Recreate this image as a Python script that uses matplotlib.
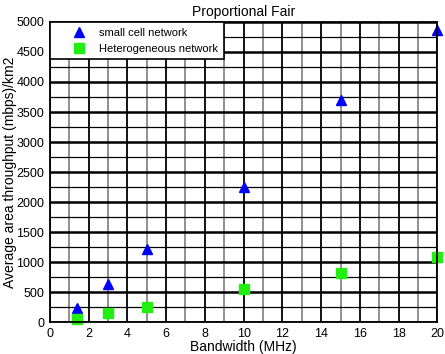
import matplotlib
matplotlib.use('Agg')
import matplotlib.pyplot as plt
from matplotlib.ticker import MultipleLocator

plt.rcParams['font.family'] = ['Liberation Sans', 'DejaVu Sans']

# data
bandwidth = [1.4, 3, 5, 10, 15, 20]
small_cell = [230, 640, 1220, 2250, 3700, 4870]
hetnet = [60, 160, 260, 560, 820, 1090]

fig = plt.figure(figsize=(4.45, 3.54), dpi=100)
ax = fig.add_axes([0.112, 0.09, 0.871, 0.848])

ax.set_xlim(0, 20)
ax.set_ylim(0, 5000)
ax.xaxis.set_major_locator(MultipleLocator(2))
ax.xaxis.set_minor_locator(MultipleLocator(1))
ax.yaxis.set_major_locator(MultipleLocator(500))
ax.yaxis.set_minor_locator(MultipleLocator(250))

# grid
ax.grid(which='major', axis='x', color='black', linewidth=1.3)
ax.grid(which='minor', axis='x', color='#888888', linewidth=1.3)
ax.grid(which='major', axis='y', color='black', linewidth=1.8)
ax.grid(which='minor', axis='y', color='black', linewidth=0.9)
ax.set_axisbelow(True)

ax.plot(bandwidth, small_cell, linestyle='none', marker='^', color='blue',
        markersize=6.5, label='small cell network', clip_on=False)
ax.plot(bandwidth, hetnet, linestyle='none', marker='s', color='#22ee11',
        markersize=6.5, label='Heterogeneous network', clip_on=False)

ax.tick_params(which='both', length=0, labelsize=9, pad=4)
for s in ax.spines.values():
    s.set_linewidth(1.3)

ax.set_title('Proportional Fair', fontsize=10, pad=4)
ax.set_xlabel('Bandwidth (MHz)', fontsize=10, labelpad=0)
ax.set_ylabel('Average area throughput (mbps)/km2', fontsize=10)
ax.yaxis.set_label_coords(-0.086, 0.5)

leg = ax.legend(loc='upper left', fontsize=8, fancybox=False, framealpha=1,
                edgecolor='black', borderaxespad=0, handletextpad=-0.35,
                borderpad=0.5, labelspacing=0.55, handlelength=4.3)
leg.get_frame().set_linewidth(1.2)

plt.savefig('out.png', dpi=100)
